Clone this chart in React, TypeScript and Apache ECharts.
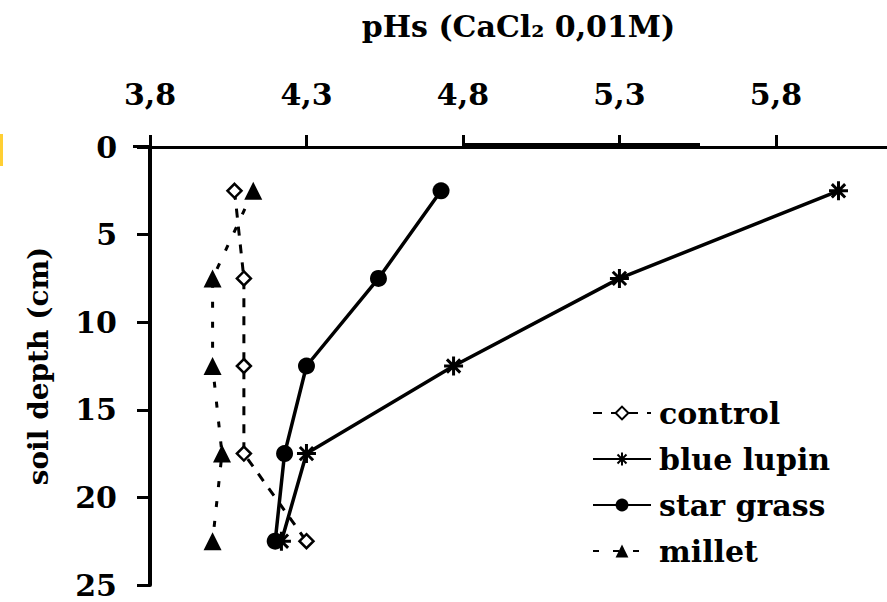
import React, { useEffect, useRef } from 'react';
import * as echarts from 'echarts';

const depths = [2.5, 7.5, 12.5, 17.5, 22.5];
const control = [4.07, 4.1, 4.1, 4.1, 4.3];
const blueLupin = [6.0, 5.3, 4.77, 4.3, 4.22];
const starGrass = [4.73, 4.53, 4.3, 4.23, 4.2];
const millet = [4.13, 4.0, 4.0, 4.03, 4.0];
const xTickValues = [3.8, 4.3, 4.8, 5.3, 5.8];
const seriesNames = ['control', 'blue lupin', 'star grass', 'millet'];
const xTitle = 'pHs (CaCl\u2082 0,01M)';
const yTitle = 'soil depth (cm)';

const FONT = '"DejaVu Serif", serif';
const ASTERISK = 'path://M0,10L20,10M10,0L10,20M3,3L17,17M17,3L3,17';

function pairs(xs: number[]) {
  return xs.map((v, i) => [v, depths[i]]);
}

export default function App() {
  const ref = useRef<HTMLDivElement>(null);
  useEffect(() => {
    if (!ref.current) return;
    const chart = echarts.init(ref.current, null, { renderer: 'svg' });
    const black = '#000';
    chart.setOption({
      animation: false,
      backgroundColor: '#fff',
      grid: { left: 150, top: 147, right: 0, bottom: 17, containLabel: false },
      xAxis: {
        type: 'value',
        position: 'top',
        min: 3.8,
        max: 6.155,
        interval: 0.5,
        name: xTitle,
        nameLocation: 'middle',
        nameGap: 106,
        nameTextStyle: { fontFamily: FONT, fontWeight: 'bold', fontSize: 30, color: black },
        axisLine: { show: true, lineStyle: { color: black, width: 3 } },
        axisTick: { show: true, length: 12, lineStyle: { color: black, width: 3 }, customValues: xTickValues },
        axisLabel: {
          customValues: xTickValues,
          margin: 38,
          fontFamily: FONT,
          fontWeight: 'bold',
          fontSize: 30,
          color: black,
          formatter: (v: number) => v.toFixed(1).replace('.', ','),
        },
        splitLine: { show: false },
      },
      yAxis: {
        type: 'value',
        inverse: true,
        min: 0,
        max: 25,
        interval: 5,
        name: yTitle,
        nameLocation: 'middle',
        nameGap: 98,
        nameRotate: 90,
        nameTextStyle: { fontFamily: FONT, fontWeight: 'bold', fontSize: 28, color: black },
        axisLine: { show: true, lineStyle: { color: black, width: 4 } },
        axisTick: { show: true, length: 13, lineStyle: { color: black, width: 3 } },
        axisLabel: { margin: 33, fontFamily: FONT, fontWeight: 'bold', fontSize: 30, color: black },
        splitLine: { show: false },
      },
      legend: {
        orient: 'vertical',
        left: 587,
        top: 393,
        itemWidth: 58,
        itemHeight: 16,
        itemGap: 16,
        data: seriesNames,
        textStyle: { fontFamily: FONT, fontWeight: 'bold', fontSize: 30, color: black, padding: [0, 0, 0, 3] },
      },
      series: [
        {
          name: seriesNames[0],
          type: 'line',
          data: pairs(control),
          symbol: 'diamond',
          symbolSize: 14,
          lineStyle: { color: black, width: 3, type: [9, 9] },
          itemStyle: { color: '#fff', borderColor: black, borderWidth: 2.5 },
        },
        {
          name: seriesNames[1],
          type: 'line',
          data: pairs(blueLupin),
          symbol: ASTERISK,
          symbolSize: 19,
          lineStyle: { color: black, width: 3.5 },
          itemStyle: { color: black, borderColor: black, borderWidth: 3 },
        },
        {
          name: seriesNames[2],
          type: 'line',
          data: pairs(starGrass),
          symbol: 'circle',
          symbolSize: 17,
          lineStyle: { color: black, width: 3.5 },
          itemStyle: { color: black },
        },
        {
          name: seriesNames[3],
          type: 'line',
          data: pairs(millet),
          symbol: 'triangle',
          symbolSize: 18,
          lineStyle: { color: black, width: 3, type: [6, 14] },
          itemStyle: { color: black },
        },
      ],
      graphic: [
        { type: 'rect', shape: { x: 0, y: 134, width: 3, height: 32 }, style: { fill: '#ffcf33' } },
        { type: 'rect', shape: { x: 463, y: 143, width: 237, height: 4 }, style: { fill: black } },
        { type: 'rect', shape: { x: 133, y: 145, width: 17, height: 3 }, style: { fill: black } },
      ],
    });
    return () => chart.dispose();
  }, []);
  return (
    <div
      ref={ref}
      style={{ position: 'fixed', left: 0, top: 0, width: 887, height: 602, background: '#fff' }}
    />
  );
}
